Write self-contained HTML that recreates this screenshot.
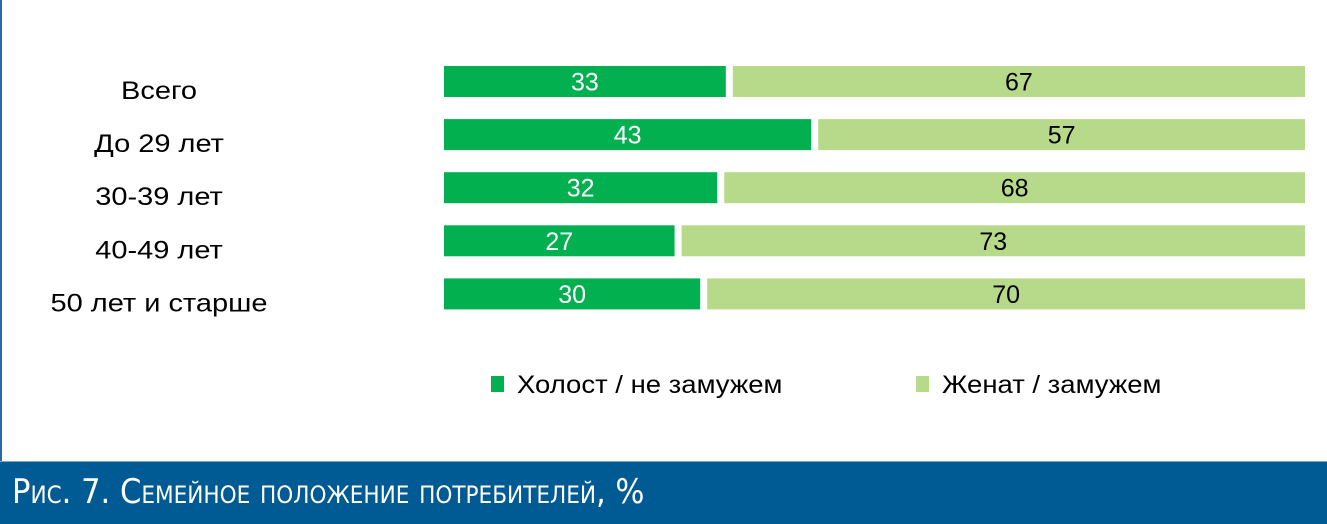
<!DOCTYPE html>
<html><head><meta charset="utf-8"><style>
body{margin:0;width:1327px;height:523px;background:#fff;position:relative;overflow:hidden;font-family:"Liberation Sans",sans-serif}
#lb{position:absolute;left:0;top:0;width:2px;height:462px;background:#2a6aa6}
#footer{position:absolute;left:0;top:461px;width:1327px;height:62px;background:#005a94;border-top:1px solid #7aa6cc}
#title{position:absolute;left:12px;top:10px;color:#fff;font-size:34px;line-height:40px;font-family:"DejaVu Sans Condensed","Liberation Sans Narrow","Liberation Sans",sans-serif;font-variant:small-caps;white-space:nowrap}
</style></head><body>
<div id="lb"></div>
<svg id="chart" width="1327" height="460" style="position:absolute;left:0;top:0"></svg>
<div id="footer"><div id="title">Рис. 7. Семейное положение потребителей, %</div></div>
<script>
const categories=["Всего","До 29 лет","30-39 лет","40-49 лет","50 лет и старше"];
const single=[33,43,32,27,30];
const married=[67,57,68,73,70];
const seriesNames=["Холост / не замужем","Женат / замужем"];
const colors=["#03b050","#b6d98a"];
const svg=document.getElementById('chart');
const NS="http://www.w3.org/2000/svg";
const x0=444,x1=1305,gap=7,top0=66,step=53.1,bh=31;
const sc=(x1-x0-gap)/100;
function xs(v){return v*sc;}
function yb(i){return top0+i*step;}
function mk(t,a){const e=document.createElementNS(NS,t);for(const k in a)e.setAttribute(k,a[k]);svg.appendChild(e);return e;}
categories.forEach((c,i)=>{
 const y=yb(i);
 const lab=mk('text',{x:0,y:0,'text-anchor':'middle','font-size':25,fill:'#000',transform:`translate(159,${y+33}) scale(1.16,1)`});
 lab.textContent=c;
 
 
 const w1=xs(single[i]);
 const r1=mk('rect',{x:x0,y:y,width:w1,height:bh,fill:colors[0]});
 
 
 const t1=mk('text',{x:x0+w1/2,y:y+bh/2+9,'text-anchor':'middle','font-size':25,fill:'#fff'});
 t1.textContent=single[i];
 
 
 const xb=x0+w1+gap,w2=xs(married[i]);
 const r2=mk('rect',{x:xb,y:y,width:w2,height:bh,fill:colors[1]});
 
 
 const t2=mk('text',{x:xb+w2/2,y:y+bh/2+9,'text-anchor':'middle','font-size':25,fill:'#000'});
 t2.textContent=married[i];
 
 
});
const lx=[491,916];
seriesNames.forEach((n,i)=>{
 const s=mk('rect',{x:lx[i],y:376,width:13,height:16,fill:colors[i]});
 
 
 const t=mk('text',{x:0,y:0,'font-size':25,fill:'#000',transform:`translate(${lx[i]+26},393) scale(1.1,1)`});
 t.textContent=n;
 
 
});
</script>
</body></html>
